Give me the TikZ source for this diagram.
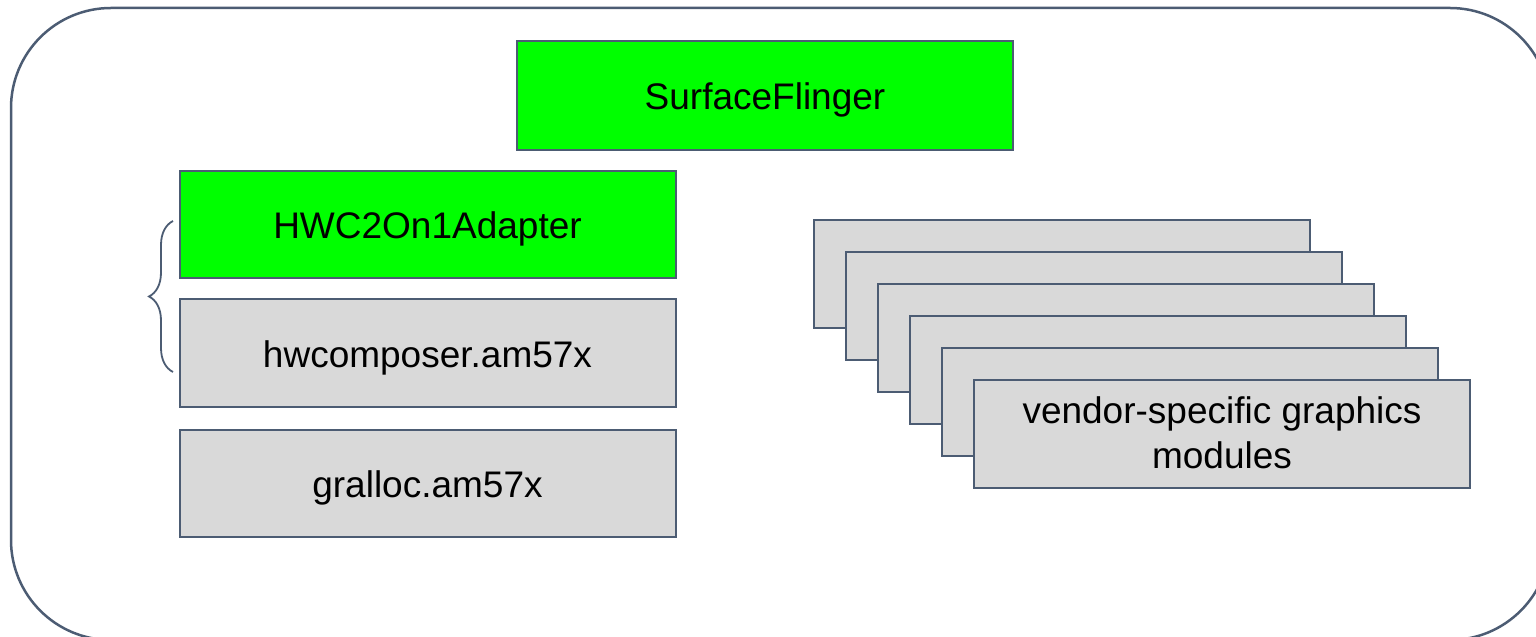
\documentclass[tikz,border=0pt]{standalone}
\usepackage{fontspec}
\setmainfont{Liberation Sans}
\usetikzlibrary{decorations.pathreplacing}

\definecolor{edgecol}{rgb}{0.30,0.36,0.45}
\definecolor{greenfill}{rgb}{0.0,1.0,0.0}
\definecolor{grayfill}{rgb}{0.851,0.851,0.851}

\begin{document}
\begin{tikzpicture}[line join=miter,
  module/.style={draw=edgecol,line width=2bp,inner sep=0pt,
    minimum width=496bp,minimum height=108bp,
    font=\fontsize{37bp}{45bp}\selectfont,align=center},
  oneline/.style={text height=36bp,text depth=7.7bp},
  greenmod/.style={module,oneline,fill=greenfill},
  graymod/.style={module,fill=grayfill}]
\useasboundingbox (0bp,0bp) rectangle (1536bp,637bp);
\clip (0bp,0bp) rectangle (1536bp,637bp);

% Frame
\draw [edgecol,line width=2.5bp,rounded corners=100bp] (11bp,-3bp) rectangle (1550bp,629bp);

% Node: sf
\node [greenmod,minimum height=109bp] (sf) at (765bp,541.5bp) {SurfaceFlinger};

% Node: adapter
\node [greenmod,minimum height=107bp] (adapter) at (427.5bp,412.5bp) {HWC2On1Adapter};

% Node: hwcomposer
\node [graymod,oneline] (hwcomposer) at (427.5bp,284bp) {hwcomposer.am57x};

% Node: gralloc
\node [graymod,oneline,minimum height=107bp] (gralloc) at (427.5bp,153.5bp) {gralloc.am57x};

% Brace: adapter + hwcomposer
\coordinate (bracebot) at (173bp,265bp);
\coordinate (bracetop) at (173bp,416bp);
\draw [edgecol,line width=1.8bp,decorate,decoration={brace,amplitude=24bp,aspect=0.5}] (bracebot) -- (bracetop);

% Nodes: vendor stack
\node [graymod] (vendora) at (1062bp,363bp) {};
\node [graymod] (vendorb) at (1094bp,331bp) {};
\node [graymod] (vendorc) at (1126bp,299bp) {};
\node [graymod] (vendord) at (1158bp,267bp) {};
\node [graymod] (vendore) at (1190bp,235bp) {};
\node [graymod,text depth=2bp] (vendorf) at (1222bp,203bp) {vendor-specific graphics\\modules};

\end{tikzpicture}
\end{document}
